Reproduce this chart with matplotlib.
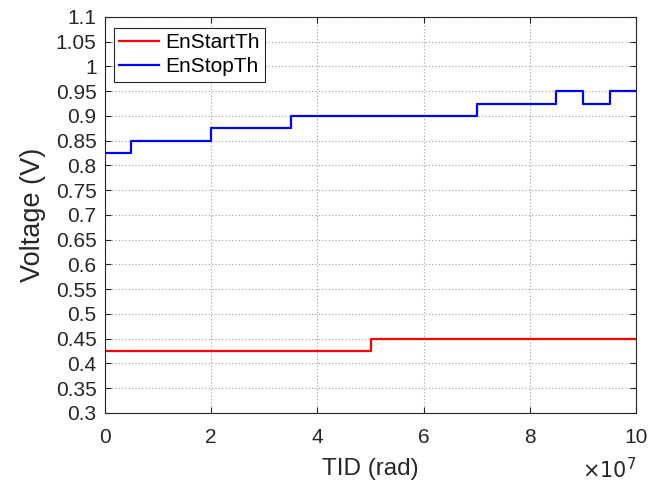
import matplotlib.pyplot as plt
from matplotlib.ticker import FuncFormatter

plt.rcParams['font.family'] = ['Liberation Sans', 'DejaVu Sans']

# TID in rad, step-wise thresholds
tid_start = [0, 5.0e7, 10.0e7]
en_start_th = [0.425, 0.45, 0.45]

tid_stop = [0, 0.5e7, 2.0e7, 3.5e7, 7.0e7, 8.5e7, 9.0e7, 9.5e7, 10.0e7]
en_stop_th = [0.825, 0.85, 0.875, 0.9, 0.925, 0.95, 0.925, 0.95, 0.95]

y_ticks = [round(0.3 + 0.05 * i, 2) for i in range(17)]

fig = plt.figure(figsize=(6.64, 4.84), dpi=100)
ax = fig.add_axes([0.158, 0.147, 0.8, 0.818])

ax.plot(tid_start, en_start_th, color='#ff0000', lw=1.6, drawstyle='steps-post', label='EnStartTh')
ax.plot(tid_stop, en_stop_th, color='#0000ff', lw=1.6, drawstyle='steps-post', label='EnStopTh')

ax.set_xlim(0, 1e8)
ax.set_ylim(0.3, 1.1)
ax.set_xticks([0, 2e7, 4e7, 6e7, 8e7, 10e7])
ax.xaxis.set_major_formatter(FuncFormatter(lambda v, p: f'{v / 1e7:g}'))
ax.set_yticks(y_ticks)
ax.set_yticklabels([f'{v:g}' for v in y_ticks])

ax.grid(True, linestyle=(0, (1, 2)), color='#a0a0a0', lw=0.8)
ax.tick_params(direction='in', top=True, right=True, labelsize=15,
               colors='#262626', length=4)
ax.tick_params(axis='x', pad=11)
ax.tick_params(axis='y', pad=6)
for s in ax.spines.values():
    s.set_color('#262626')
    s.set_linewidth(0.8)

ax.set_xlabel('TID (rad)', fontsize=17.5, color='#262626', labelpad=8)
ax.set_ylabel('Voltage (V)', fontsize=19.5, color='#262626', labelpad=7)
fig.text(636 / 664, 0.004, r'$\times 10^{7}$', fontsize=15,
         ha='right', va='bottom', color='#262626')

leg = ax.legend(loc='upper left', fontsize=15, fancybox=False, framealpha=1,
                edgecolor='#262626', handlelength=1.9, borderpad=0.25,
                labelspacing=0.25, handletextpad=0.3, borderaxespad=0,
                bbox_to_anchor=(0.017, 0.972))
leg.get_frame().set_linewidth(0.8)

fig.savefig('out.png', dpi=100)
